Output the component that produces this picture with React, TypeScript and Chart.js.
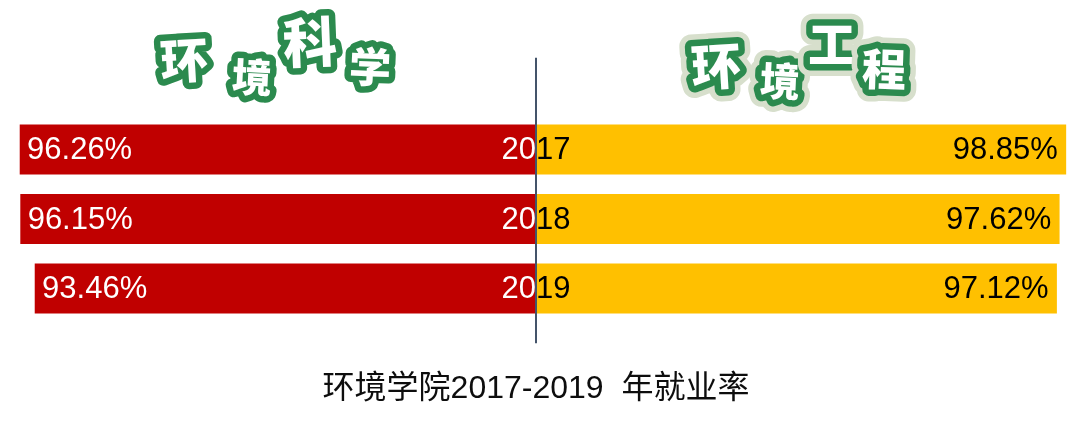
import { useEffect, useRef } from 'react';
import Chart from 'chart.js/auto';

// Employment rate by graduating year
const years = ['2017', '2018', '2019'];
const scienceRates = [96.26, 96.15, 93.46]; // 环境科学
const engineeringRates = [98.85, 97.62, 97.12]; // 环境工程

const leftTitle = '环境科学';
const rightTitle = '环境工程';
const caption = '环境学院2017-2019  年就业率';

const RED = '#C00000';
const YELLOW = '#FFC000';
const GREEN = '#2B8A4E';
const NUM_FONT = '31px "Liberation Sans", Arial, sans-serif';

// hand-placed word-art letters (offset from centre line, y, font size, rotation)
const leftLetters = [
  { dx: -352, y: 60, size: 48, rot: -0.06 },
  { dx: -284, y: 77, size: 40, rot: 0.05 },
  { dx: -226, y: 42, size: 54, rot: -0.04 },
  { dx: -166, y: 67, size: 42, rot: 0.04 },
];
const rightLetters = [
  { dx: 180, y: 66, size: 50, rot: -0.06 },
  { dx: 244, y: 81, size: 40, rot: 0.05 },
  { dx: 296, y: 44, size: 48, rot: 0 },
  { dx: 348, y: 69, size: 44, rot: 0.03 },
];

type Letter = { dx: number; y: number; size: number; rot: number };

function drawWordArt(ctx: CanvasRenderingContext2D, text: string, cx: number, letters: Letter[], glow: boolean) {
  const chars = Array.from(text);
  chars.forEach((ch, i) => {
    const l = letters[i];
    ctx.save();
    ctx.translate(cx + l.dx, l.y);
    ctx.rotate(l.rot);
    ctx.font = `900 ${l.size}px "Noto Sans CJK SC", sans-serif`;
    ctx.textAlign = 'center';
    ctx.textBaseline = 'middle';
    ctx.lineJoin = 'round';
    if (glow) {
      ctx.strokeStyle = '#D7DFCC';
      ctx.lineWidth = 24;
      ctx.strokeText(ch, 0, 0);
    }
    ctx.strokeStyle = GREEN;
    ctx.lineWidth = 13;
    ctx.strokeText(ch, 0, 0);
    ctx.fillStyle = '#FFFFFF';
    ctx.fillText(ch, 0, 0);
    ctx.restore();
  });
}

const butterflyPlugin = {
  id: 'butterfly',
  afterDatasetsDraw(chart: any) {
    const { ctx, chartArea } = chart;
    const xScale = chart.scales.x;
    const yScale = chart.scales.y;
    const cx = xScale.getPixelForValue(0);

    ctx.save();
    ctx.font = NUM_FONT;
    ctx.textBaseline = 'middle';

    chart.getDatasetMeta(0).data.forEach((bar: any, i: number) => {
      ctx.fillStyle = '#FFFFFF';
      ctx.textAlign = 'left';
      ctx.fillText(scienceRates[i].toFixed(2) + '%', bar.x + 7, bar.y + 1);
    });
    chart.getDatasetMeta(1).data.forEach((bar: any, i: number) => {
      ctx.fillStyle = '#000000';
      ctx.textAlign = 'right';
      ctx.fillText(engineeringRates[i].toFixed(2) + '%', bar.x - 8, bar.y + 1);
    });

    // year labels straddle the centre line: white on red, black on yellow
    years.forEach((yr, i) => {
      const py = yScale.getPixelForValue(i) + 1;
      ctx.textAlign = 'center';
      ctx.save();
      ctx.beginPath();
      ctx.rect(0, 0, cx, chart.height);
      ctx.clip();
      ctx.fillStyle = '#FFFFFF';
      ctx.fillText(yr, cx, py);
      ctx.restore();
      ctx.save();
      ctx.beginPath();
      ctx.rect(cx, 0, chart.width - cx, chart.height);
      ctx.clip();
      ctx.fillStyle = '#000000';
      ctx.fillText(yr, cx, py);
      ctx.restore();
    });

    // centre divider
    ctx.strokeStyle = '#44546A';
    ctx.lineWidth = 2;
    ctx.beginPath();
    ctx.moveTo(cx, chartArea.top - 57);
    ctx.lineTo(cx, chartArea.bottom + 20);
    ctx.stroke();
    ctx.restore();
  },
  afterDraw(chart: any) {
    const { ctx, chartArea } = chart;
    const cx = chart.scales.x.getPixelForValue(0);
    drawWordArt(ctx, leftTitle, cx, leftLetters, false);
    drawWordArt(ctx, rightTitle, cx, rightLetters, true);

    ctx.save();
    ctx.font = '32px "Liberation Sans", "Noto Sans CJK SC", sans-serif';
    ctx.fillStyle = '#0D0D0D';
    ctx.textAlign = 'center';
    ctx.textBaseline = 'middle';
    ctx.fillText(caption, cx, chartArea.bottom + 66);
    ctx.restore();
  },
};

export default function App() {
  const chartRef = useRef<HTMLCanvasElement>(null);
  const chartInstance = useRef<Chart | null>(null);

  useEffect(() => {
    if (!chartRef.current) return;
    const ctx = chartRef.current.getContext('2d');
    if (!ctx) return;

    if (chartInstance.current) {
      chartInstance.current.destroy();
      chartInstance.current = null;
    }

    chartInstance.current = new Chart(ctx, {
      type: 'bar',
      data: {
        labels: years,
        datasets: [
          {
            label: leftTitle,
            data: scienceRates.map((v) => -v),
            backgroundColor: RED,
            barThickness: 49.5,
          },
          {
            label: rightTitle,
            data: engineeringRates,
            backgroundColor: YELLOW,
            barThickness: 49.5,
          },
        ],
      },
      options: {
        indexAxis: 'y',
        responsive: true,
        maintainAspectRatio: false,
        animation: false,
        layout: {
          padding: { top: 114.75, bottom: 104.75, left: 0, right: 8 },
        },
        plugins: {
          legend: { display: false },
          tooltip: { enabled: false },
        },
        scales: {
          x: { display: false, stacked: true, min: -100, max: 100 },
          y: { display: false, stacked: true },
        },
      },
      plugins: [butterflyPlugin],
    });

    return () => {
      if (chartInstance.current) {
        chartInstance.current.destroy();
        chartInstance.current = null;
      }
    };
  }, []);

  return (
    <div style={{ position: 'fixed', left: 0, top: 0, width: 1080, height: 428, background: '#fff' }}>
      <canvas ref={chartRef} />
    </div>
  );
}
